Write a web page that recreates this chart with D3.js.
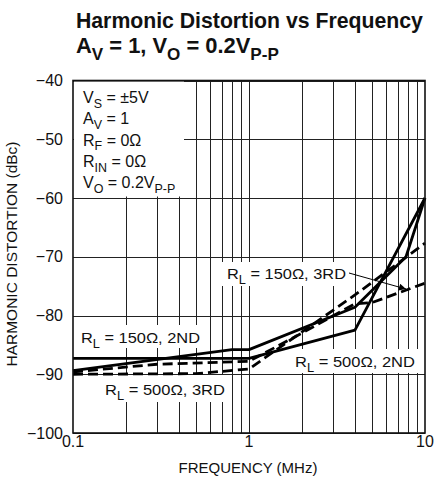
<!DOCTYPE html>
<head>
<meta charset="utf-8">
<title>Harmonic Distortion vs Frequency</title>
<script src="https://cdn.jsdelivr.net/npm/d3@7"></script>
<style>
	body { margin: 0; background: #fff; }
	text { font-family: "Liberation Sans", Arial, sans-serif; fill: #111; }
	.grid line { stroke: #222; stroke-width: 1; shape-rendering: crispEdges; }
</style>
</head>
<body>
<script>
var width = 443;
var height = 497;
var margin = {top: 81, bottom: 65, left: 73, right: 18};

// data
var xTicks = [0.1, 1, 10];
var yTicks = [-100, -90, -80, -70, -60, -50, -40];
var minorFreqs = [0.2, 0.3, 0.4, 0.5, 0.6, 0.7, 0.8, 0.9, 2, 3, 4, 5, 6, 7, 8, 9];

var f150_2nd = [0.1, 0.8, 1, 4, 7.8, 10];
var db150_2nd = [-89.4, -85.8, -85.8, -78.6, -70, -60];
var f500_2nd = [0.1, 1, 4, 10];
var db500_2nd = [-87.3, -87.3, -82.5, -60];
var f150_3rd = [0.1, 0.3, 1, 2, 4, 5, 10];
var db150_3rd = [-89.6, -88.3, -87.8, -83, -78, -77.8, -74.5];
var f500_3rd = [0.1, 0.5, 1, 4, 10];
var db500_3rd = [-90, -89.9, -89.1, -76.5, -67.7];

var series = [
	{f: f150_2nd, db: db150_2nd, dash: null},
	{f: f500_2nd, db: db500_2nd, dash: null},
	{f: f150_3rd, db: db150_3rd, dash: "10,5"},
	{f: f500_3rd, db: db500_3rd, dash: "10,5"}
];

var svg = d3.select("body").append("svg")
	.attr("width", width)
	.attr("height", height);

var x = d3.scaleLog().domain([0.1, 10]).range([margin.left, width - margin.right]);
var y = d3.scaleLinear().domain([-100, -40]).range([height - margin.bottom + 1, margin.top - 0.5]);

// grid
var grid = svg.append("g").attr("class", "grid");
grid.selectAll(".v").data(minorFreqs.concat([1])).enter().append("line")
	.attr("x1", function(d) { return Math.round(x(d)) + 0.5; })
	.attr("x2", function(d) { return Math.round(x(d)) + 0.5; })
	.attr("y1", y(-40)).attr("y2", y(-100));
grid.selectAll(".h").data(yTicks).enter().append("line")
	.attr("x1", x(0.1)).attr("x2", x(10))
	.attr("y1", function(d) { return Math.round(y(d)) + 0.5; })
	.attr("y2", function(d) { return Math.round(y(d)) + 0.5; });

// white boxes behind the notes
function whiteBox(x0, y0, w, h) {
	svg.append("rect").attr("x", x0).attr("y", y0).attr("width", w).attr("height", h).attr("fill", "#fff");
}
whiteBox(x(0.1) + 1, y(-40) + 1, 110, 115);
whiteBox(76, 325, 130, 23);
whiteBox(100, 375, 132, 27);
whiteBox(222, 262, 128, 24);
whiteBox(291, 349, 129, 24);

// curves
var line = d3.line()
	.x(function(d) { return x(d[0]); })
	.y(function(d) { return y(d[1]); });

svg.selectAll(".curve").data(series).enter().append("path")
	.attr("d", function(s) { return line(s.f.map(function(f, i) { return [f, s.db[i]]; })); })
	.attr("fill", "none")
	.attr("stroke", "#000")
	.attr("stroke-width", 2.8)
	.attr("stroke-linejoin", "round")
	.attr("stroke-dasharray", function(s) { return s.dash; });

// frame
svg.append("rect")
	.attr("x", x(0.1)).attr("y", y(-40))
	.attr("width", x(10) - x(0.1)).attr("height", y(-100) - y(-40))
	.attr("fill", "none").attr("stroke", "#111").attr("stroke-width", 1.6);

// squeeze a left-anchored text to a given width (condensed look)
function fit(t, px, py, w) {
	var cur = t.node().getComputedTextLength();
	t.attr("transform", "translate(" + px + "," + py + ") scale(" + (w / cur) + ",1) translate(" + (-px) + "," + (-py) + ")");
	return t;
}

// tick labels
svg.selectAll(".yl").data(yTicks).enter().append("text")
	.attr("x", 63).attr("y", function(d) { return y(d) + 5.5; })
	.attr("text-anchor", "end").style("font-size", "16px")
	.text(function(d) { return "\u2212" + Math.abs(d); });
svg.selectAll(".xl").data(xTicks).enter().append("text")
	.attr("x", function(d) { return x(d); }).attr("y", 447)
	.attr("text-anchor", "middle").style("font-size", "16px")
	.text(function(d) { return d; });

svg.append("text").attr("x", 248).attr("y", 473).attr("text-anchor", "middle")
	.style("font-size", "15px").text("FREQUENCY (MHz)");
svg.append("text").attr("transform", "translate(17,254) rotate(-90)").attr("text-anchor", "middle")
	.style("font-size", "15.5px").text("HARMONIC DISTORTION (dBc)");

// text with subscripts: parts = [[text, sub?], ...]
function subText(g, px, py, size, parts) {
	var t = g.append("text").attr("x", px).attr("y", py).style("font-size", size + "px");
	var prevSub = false;
	parts.forEach(function(p) {
		var sp = t.append("tspan").text(p[0]);
		if (p[1]) sp.style("font-size", (size * 0.78) + "px");
		if (p[1] && !prevSub) sp.attr("dy", size * 0.3);
		else if (!p[1] && prevSub) sp.attr("dy", -size * 0.3);
		prevSub = p[1];
	});
	return t;
}

// title
var t1 = svg.append("text").attr("x", 76).attr("y", 28)
	.style("font-size", "22px").style("font-weight", "bold")
	.text("Harmonic Distortion vs Frequency");
fit(t1, 76, 28, 347);
var t2 = subText(svg, 76, 53, 22, [["A", 0], ["V", 1], [" = 1, V", 0], ["O", 1], [" = 0.2V", 0], ["P-P", 1]])
	.style("font-weight", "bold");
fit(t2, 76, 53, 203);

// conditions box
var cond = [
	[["V", 0], ["S", 1], [" = \u00b15V", 0]],
	[["A", 0], ["V", 1], [" = 1", 0]],
	[["R", 0], ["F", 1], [" = 0\u03a9", 0]],
	[["R", 0], ["IN", 1], [" = 0\u03a9", 0]],
	[["V", 0], ["O", 1], [" = 0.2V", 0], ["P-P", 1]]
];
cond.forEach(function(parts, i) {
	subText(svg, 83, 103 + i * 21.3, 16, parts);
});

// curve labels
fit(subText(svg, 81, 343, 15.5, [["R", 0], ["L", 1], [" = 150\u03a9, 2ND", 0]]), 81, 343, 119);
fit(subText(svg, 105, 395, 15.5, [["R", 0], ["L", 1], [" = 500\u03a9, 3RD", 0]]), 105, 395, 120);
fit(subText(svg, 227, 279, 15.5, [["R", 0], ["L", 1], [" = 150\u03a9, 3RD", 0]]), 227, 279, 119);
fit(subText(svg, 295, 367, 15.5, [["R", 0], ["L", 1], [" = 500\u03a9, 2ND", 0]]), 295, 367, 120);

// arrow to the 150 ohm 3rd curve
svg.append("defs").append("marker").attr("id", "ah")
	.attr("viewBox", "0 0 10 10").attr("refX", 10).attr("refY", 5)
	.attr("markerWidth", 9).attr("markerHeight", 7).attr("orient", "auto")
	.attr("markerUnits", "userSpaceOnUse")
	.append("path").attr("d", "M0,0L10,5L0,10z").attr("fill", "#000");
svg.append("line").attr("x1", 349).attr("y1", 273).attr("x2", 406).attr("y2", 289)
	.attr("stroke", "#000").attr("stroke-width", 1).attr("marker-end", "url(#ah)");
</script>
</body>
